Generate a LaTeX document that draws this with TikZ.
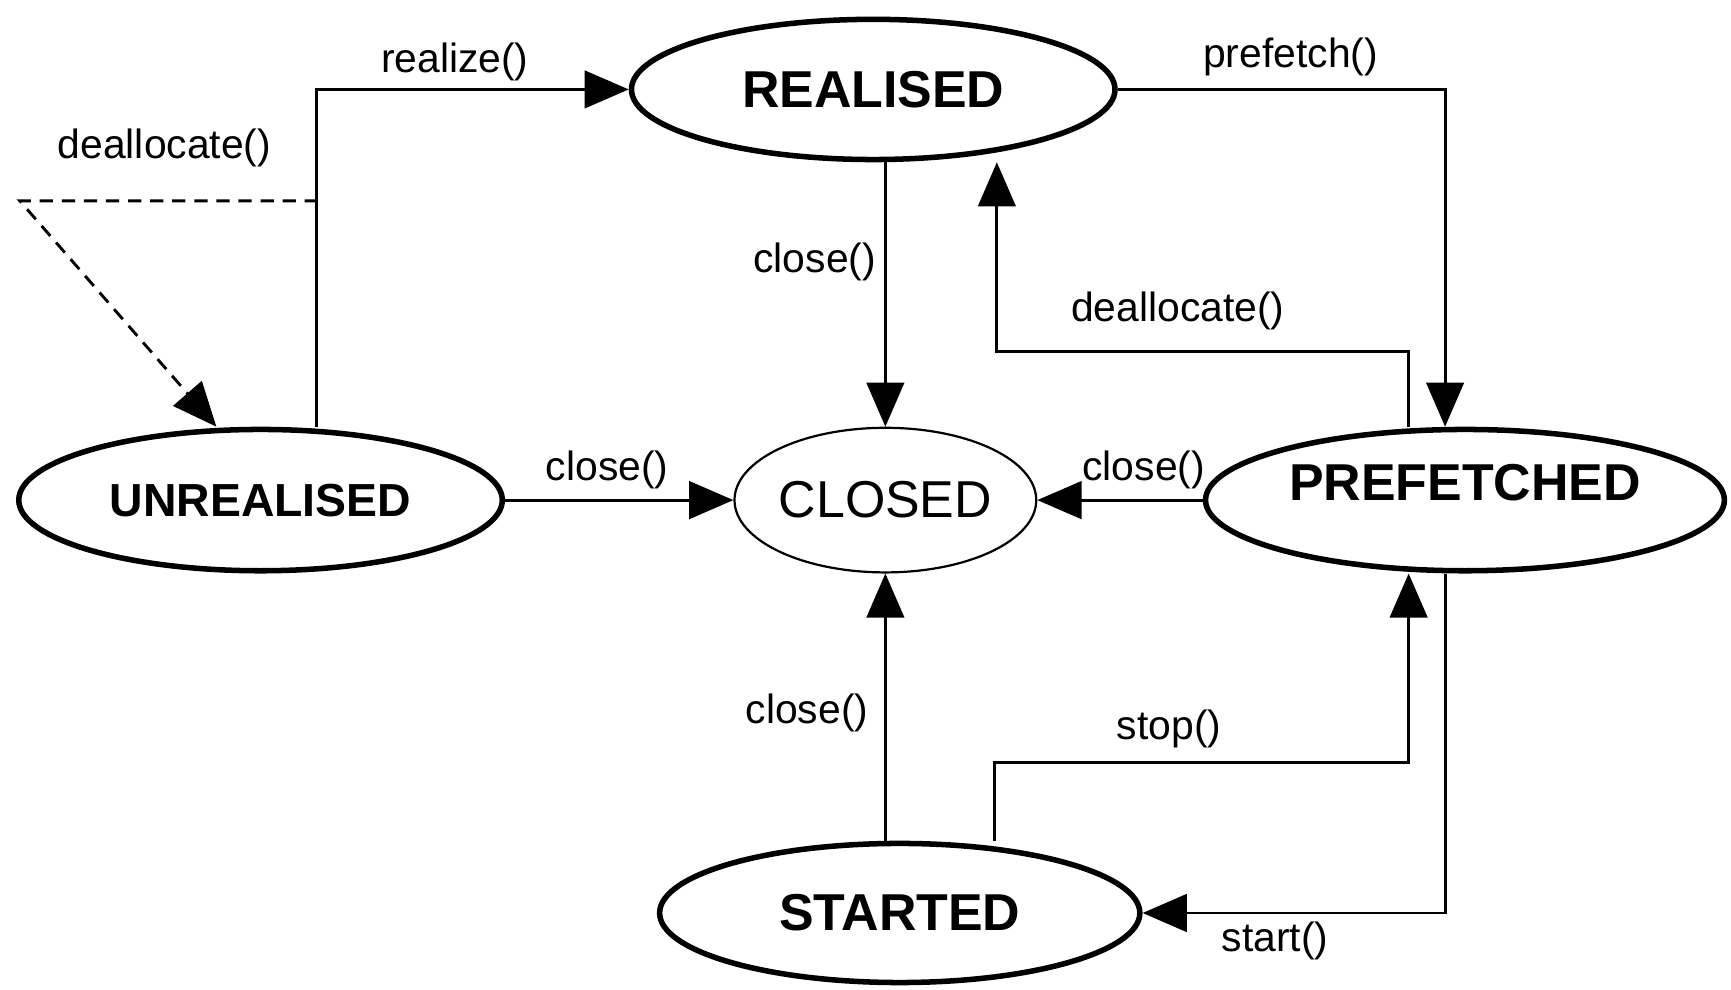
\documentclass[tikz,border=0pt]{standalone}
\usepackage{fontspec}
\setmainfont{Liberation Sans}
\usetikzlibrary{shapes.geometric,arrows.meta,calc}
\begin{document}
\begin{tikzpicture}[x=0.5pt,y=-0.5pt,
  state/.style={ellipse, draw, line width=2.5pt, inner sep=0pt,
    font=\fontsize{23.5}{28}\selectfont\bfseries},
  thinstate/.style={ellipse, draw, line width=1pt, inner sep=0pt,
    font=\fontsize{23.5}{28}\selectfont},
  lbl/.style={inner sep=0pt, font=\fontsize{18.5}{22}\selectfont},
  conn/.style={line width=1.3pt},
  arr/.style={conn, -{Triangle[length=20pt,width=17pt]}},
  dsh/.style={arr, dash pattern=on 6pt off 4pt}
]
\useasboundingbox (0,0) rectangle (1568,896);

% states
\node[state, minimum width=219pt, minimum height=63.5pt] (R) at (791,81) {REALISED};
\node[state, minimum width=219pt, minimum height=64pt,
      font=\fontsize{21}{25}\selectfont\bfseries] (U) at (236,453) {UNREALISED};
\node[thinstate, minimum width=136.5pt, minimum height=65.5pt] (C) at (802,453) {CLOSED};
\node[state, minimum width=235pt, minimum height=64pt] (P) at (1327,453) {\raisebox{16pt}{PREFETCHED}};
\node[state, minimum width=217.5pt, minimum height=63pt] (S) at (815,827) {STARTED};

% connectors
\draw[arr] ([xshift=25.5pt]U.north) |- (R.west);
\coordinate (dj) at (288,182);
\coordinate (dc) at (18,182);
\draw[dsh] (dj) -- (dc) -- ([xshift=-20pt]U.north);
\draw[arr] (R.east) -| ([xshift=-9pt]P.north);
\draw[arr] (R.south -| C.north) -- (C.north);
\draw[arr] ([xshift=-25.5pt]P.north) -- ++(0,-68) -| ([xshift=56pt]R.south);
\draw[arr] (U.east) -- (C.west);
\draw[arr] (P.west) -- (C.east);
\draw[arr] (S.north -| C.south) -- (C.south);
\draw[arr] ([xshift=43pt]S.north) -- ++(0,-71) -| ([xshift=-25.5pt]P.south);
\draw[arr] ([xshift=-9pt]P.south) |- (S.east);

% labels
\node[lbl] (l1) at (412,56) {realize()};
\node[lbl] (l2) at (149,134) {deallocate()};
\node[lbl] (l3) at (1169,52) {prefetch()};
\node[lbl] (l4) at (738,237) {close()};
\node[lbl] (l5) at (1067,282) {deallocate()};
\node[lbl] (l6) at (550,426) {close()};
\node[lbl] (l7) at (1036,426) {close()};
\node[lbl] (l8) at (731,646) {close()};
\node[lbl] (l9) at (1059,660) {stop()};
\node[lbl] (l10) at (1155,852) {start()};
\end{tikzpicture}
\end{document}
